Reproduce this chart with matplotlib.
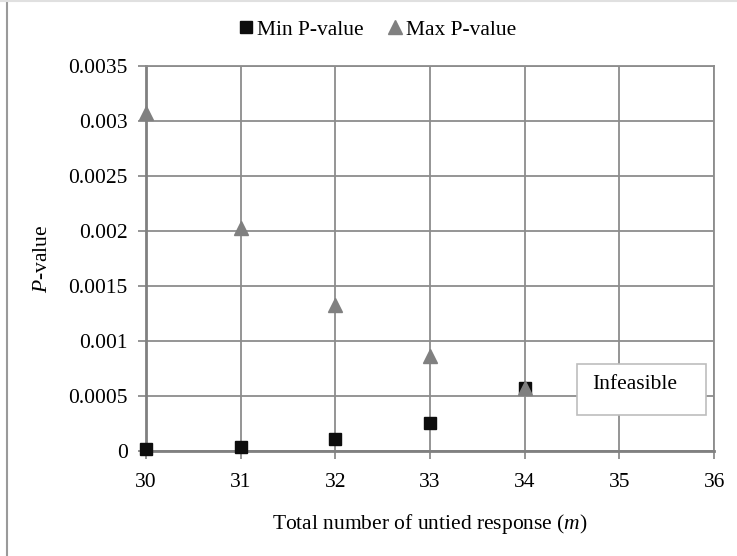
import matplotlib.pyplot as plt
from matplotlib.lines import Line2D
from matplotlib.patches import Rectangle

plt.rcParams['font.family'] = ['Liberation Serif', 'DejaVu Serif']
plt.rcParams['mathtext.fontset'] = 'custom'
plt.rcParams['mathtext.rm'] = 'Liberation Serif'
plt.rcParams['mathtext.it'] = 'Liberation Serif:italic'

m = [30, 31, 32, 33, 34]
min_p = [0.00002, 0.00004, 0.00011, 0.00025, 0.00057]
max_p = [0.00307, 0.00203, 0.00133, 0.000864, 0.00057]
x_ticks = [30, 31, 32, 33, 34, 35, 36]
y_ticks = [0, 0.0005, 0.001, 0.0015, 0.002, 0.0025, 0.003, 0.0035]

grid_col = '#8c8c8c'

fig = plt.figure(figsize=(7.37, 5.56), dpi=100)
ax = fig.add_axes([0.198, 0.189, 0.771, 0.692])

ax.plot(m, min_p, 's', color='#0d0d0d', markersize=9.2, clip_on=False,
        zorder=5, label='Min P-value')
ax.plot(m, max_p, '^', color='#808080', markersize=10, clip_on=False,
        zorder=6, label='Max P-value')

ax.set_xlim(30, 36)
ax.set_ylim(0, 0.0035)
ax.set_xticks(x_ticks)
ax.set_yticks(y_ticks)
ax.set_yticklabels(['{:g}'.format(v) for v in y_ticks])
ax.grid(True, color=grid_col, linewidth=1.3)
ax.set_axisbelow(True)

for side in ['top', 'right']:
    ax.spines[side].set_color(grid_col)
    ax.spines[side].set_linewidth(1.3)
for side in ['left', 'bottom']:
    ax.spines[side].set_color('#808080')
    ax.spines[side].set_linewidth(2)
ax.tick_params(axis='both', colors=grid_col, width=1.3, length=6,
               labelcolor='black', labelsize=15.5)
ax.tick_params(axis='y', pad=7)
ax.tick_params(axis='x', pad=10)

ax.set_xlabel('Total number of untied response ($m$)', fontsize=15.5, labelpad=14)
ax.set_ylabel('$P$-value', fontsize=15.5, labelpad=12)

# "Infeasible" note box
ax.add_patch(Rectangle((34.55, 0.000328), 1.36, 0.000465, facecolor='white',
                       edgecolor='#bdbdbd', linewidth=1.2, zorder=7,
                       clip_on=False))
ax.text(34.71, 0.000605, 'Infeasible', fontsize=15.5, ha='left', va='center',
        zorder=8)

fig.legend(loc='center', bbox_to_anchor=(0.512, 0.947), ncol=2, frameon=False,
           fontsize=15.5, handletextpad=0.15, columnspacing=1.1,
           handlelength=0.7)

# outer border of the chart area
fig.add_artist(Line2D([0.0095, 0.0095], [0, 1], color='#9a9a9a', linewidth=1.5))
fig.add_artist(Line2D([0, 1], [0.999, 0.999], color='#e0e0e0', linewidth=1.5))

fig.savefig('out.png', dpi=100)
